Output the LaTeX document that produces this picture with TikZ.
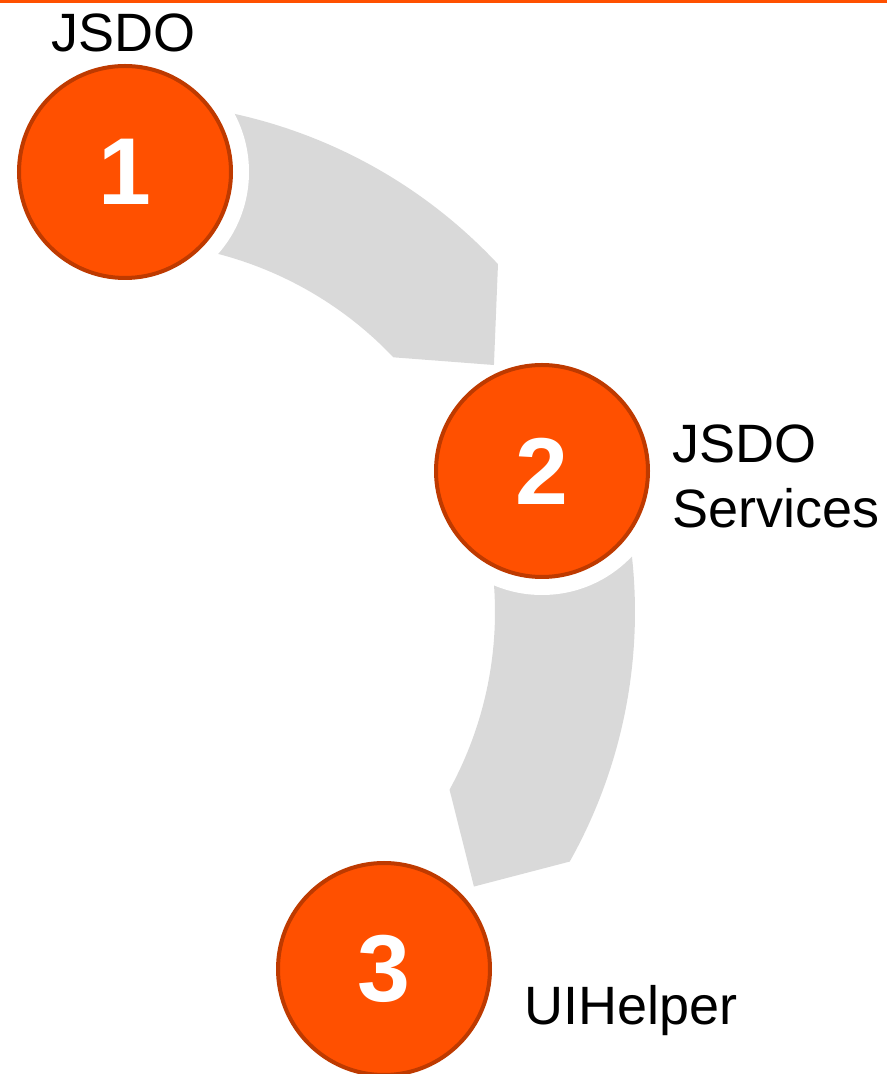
\documentclass[tikz,border=0pt]{standalone}
\usepackage{fontspec}
\setmainfont{Liberation Sans}
\definecolor{brandorange}{HTML}{FF5000}
\definecolor{rimorange}{HTML}{BE3A00}
\definecolor{bandgrey}{HTML}{D9D9D9}
\begin{document}
\begin{tikzpicture}[x=1pt,y=1pt,
  band/.style={fill=bandgrey},
  stepcircle/.style={circle, fill=brandorange, draw=rimorange, line width=4pt,
    minimum size=212pt, inner sep=0pt, text=white,
    font=\fontsize{95}{95}\selectfont\bfseries},
  halo/.style={circle, fill=white, minimum size=248pt, inner sep=0pt},
  steplabel/.style={inner sep=0pt, text=black, font=\fontsize{54}{65}\selectfont}]
\useasboundingbox (0,0) rectangle (887,1074);
\fill[brandorange] (0,1071) rectangle (887,1074);
\coordinate (O) at (125,462);
% band from 2 to 3, cut by the halo of circle 2
\begin{scope}[shift={(O)}]
  \fill[band] (18.7:510) arc[start angle=18.7,end angle=-29.3,radius=510]
    -- (-38.2:444) -- (-28.7:370) arc[start angle=-28.7,end angle=18.7,radius=370] -- cycle;
\end{scope}
\node[halo] (h2) at (542,603) {};
% band from 1 to 2, cut by the halo of circle 1
\begin{scope}[shift={(O)}]
  \fill[band] (90:510) arc[start angle=90,end angle=43,radius=510]
    -- (33.8:444) -- (43.5:370) arc[start angle=43.5,end angle=90,radius=370] -- cycle;
\end{scope}
\node[halo] (h1) at (125,902) {};
\node[stepcircle] (c1) at (h1) {1};
\node[stepcircle] (c2) at (h2) {2};
\node[stepcircle] (c3) at (384,105) {3};
\node[steplabel, anchor=base west] (t1) at (51.5,1022) {JSDO};
\node[steplabel, align=left, anchor=north west] (t2) at (672,649) {JSDO\\Services};
\node[steplabel, anchor=base west] (t3) at (524,49) {UIHelper};
\end{tikzpicture}
\end{document}
